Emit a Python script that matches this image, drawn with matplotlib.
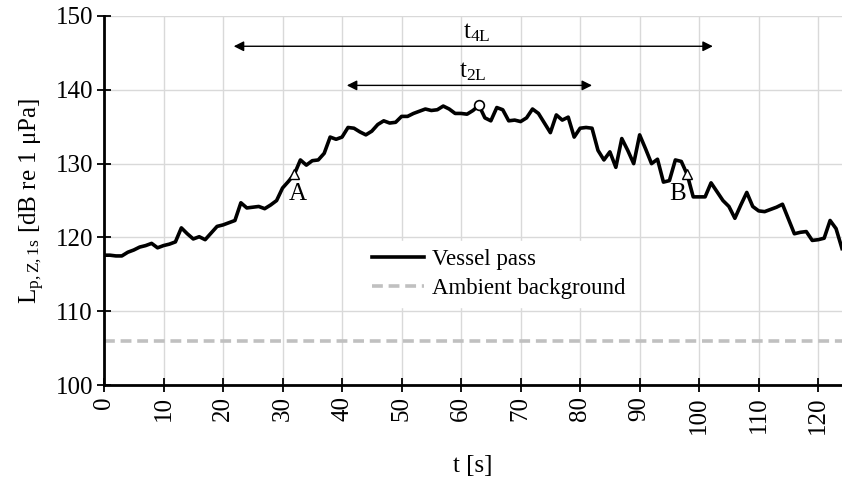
import matplotlib
matplotlib.use("Agg")
import matplotlib.pyplot as plt

# sound pressure level during the vessel pass, one value per second
t = list(range(0, 125))
lp = [117.6, 117.6, 117.5, 117.5, 118.0, 118.3, 118.7, 118.9, 119.2, 118.6,
      118.9, 119.1, 119.4, 121.3, 120.5, 119.8, 120.1, 119.7, 120.6, 121.5,
      121.7, 122.0, 122.3, 124.7, 124.0, 124.1, 124.2, 123.9, 124.4, 125.0,
      126.7, 127.6, 128.6, 130.5, 129.8, 130.4, 130.5, 131.4, 133.6, 133.3,
      133.6, 134.9, 134.8, 134.3, 133.9, 134.4, 135.3, 135.8, 135.5, 135.6,
      136.4, 136.4, 136.8, 137.1, 137.4, 137.2, 137.3, 137.8, 137.4, 136.8,
      136.8, 136.7, 137.2, 137.9, 136.2, 135.8, 137.6, 137.3, 135.8, 135.9,
      135.7, 136.2, 137.4, 136.8, 135.5, 134.2, 136.6, 135.9, 136.3, 133.6,
      134.8, 134.9, 134.8, 131.8, 130.5, 131.6, 129.5, 133.4, 131.8, 130.0,
      133.9, 132.0, 130.0, 130.6, 127.5, 127.7, 130.5, 130.3, 128.5, 125.5,
      125.5, 125.5, 127.4, 126.2, 125.0, 124.2, 122.6, 124.4, 126.1, 124.2,
      123.6, 123.5, 123.8, 124.1, 124.5, 122.5, 120.5, 120.7, 120.8, 119.6,
      119.7, 119.9, 122.3, 121.2, 118.5]
ambient = 106.0

# markers: peak and the -10 dB points
peak_t, peak_l = 63, 137.9
a_t, a_l = 32, 128.6
b_t, b_l = 98, 128.6

# duration arrows (start, end, level)
t4l = (21.8, 102.3, 145.9)
t2l = (40.8, 82.0, 140.6)

plt.rcParams['font.family'] = ['Liberation Serif', 'DejaVu Serif']
plt.rcParams['mathtext.fontset'] = 'custom'
plt.rcParams['mathtext.rm'] = 'Liberation Serif'
plt.rcParams['mathtext.it'] = 'Liberation Serif:italic'

fig = plt.figure(figsize=(8.42, 4.79), dpi=100, facecolor='w')
ax = fig.add_axes([0.1235, 0.196, 0.8765, 0.7706])

ax.plot(t, lp, color='black', lw=2.6, label='Vessel pass', zorder=3)
ax.plot([0, 124], [ambient, ambient], color='#c0c0c0', lw=2.6,
        ls=(0, (3, 1.6)), label='Ambient background', zorder=2)

ax.plot([peak_t], [peak_l], marker='o', ms=7, mfc='white', mec='black',
        mew=1.2, zorder=4)
ax.plot([a_t, b_t], [a_l, b_l], marker='^', ls='none', ms=7, mfc='white',
        mec='black', mew=1.0, zorder=4)
ax.text(a_t + 0.5, a_l - 1.2, 'A', ha='center', va='top', fontsize=18)
ax.text(b_t - 1.6, b_l - 1.2, 'B', ha='center', va='top', fontsize=18)

for (x0, x1, y), name in [(t4l, '4L'), (t2l, '2L')]:
    ax.annotate('', xy=(x0, y), xytext=(x1, y),
                arrowprops=dict(arrowstyle='<|-|>', color='black', lw=1.0,
                                mutation_scale=15, shrinkA=0, shrinkB=0))
    ax.text((x0 + x1) / 2 + 0.5, y + 0.3, r't$_{\mathrm{%s}}$' % name,
            ha='center', va='bottom', fontsize=18)

ax.set_xlim(0, 124)
ax.set_ylim(100, 150)
ax.set_xticks(range(0, 121, 10))
ax.set_yticks(range(100, 151, 10))
ax.grid(True, color='#d9d9d9', lw=1.0, zorder=0)
ax.set_axisbelow(True)

for side in ['top', 'right']:
    ax.spines[side].set_visible(False)
for side in ['left', 'bottom']:
    ax.spines[side].set_linewidth(2.0)

ax.tick_params(axis='both', direction='inout', length=10, width=1.3,
               labelsize=18, pad=3)
ax.tick_params(axis='x', labelrotation=90)

ax.set_xlabel('t [s]', fontsize=18, labelpad=15)
ax.set_ylabel(r'L$_{\mathrm{p,Z,1s}}$ [dB re 1 μPa]', fontsize=18,
              labelpad=6)

leg = ax.legend(loc='center', bbox_to_anchor=(0.535, 0.30), frameon=True,
                fontsize=16.5, handlelength=2.3, handletextpad=0.35,
                borderpad=0.35, labelspacing=0.35, fancybox=False)
leg.get_frame().set_edgecolor('white')
leg.get_frame().set_alpha(1.0)

plt.savefig('out.png', dpi=100)
plt.close(fig)
